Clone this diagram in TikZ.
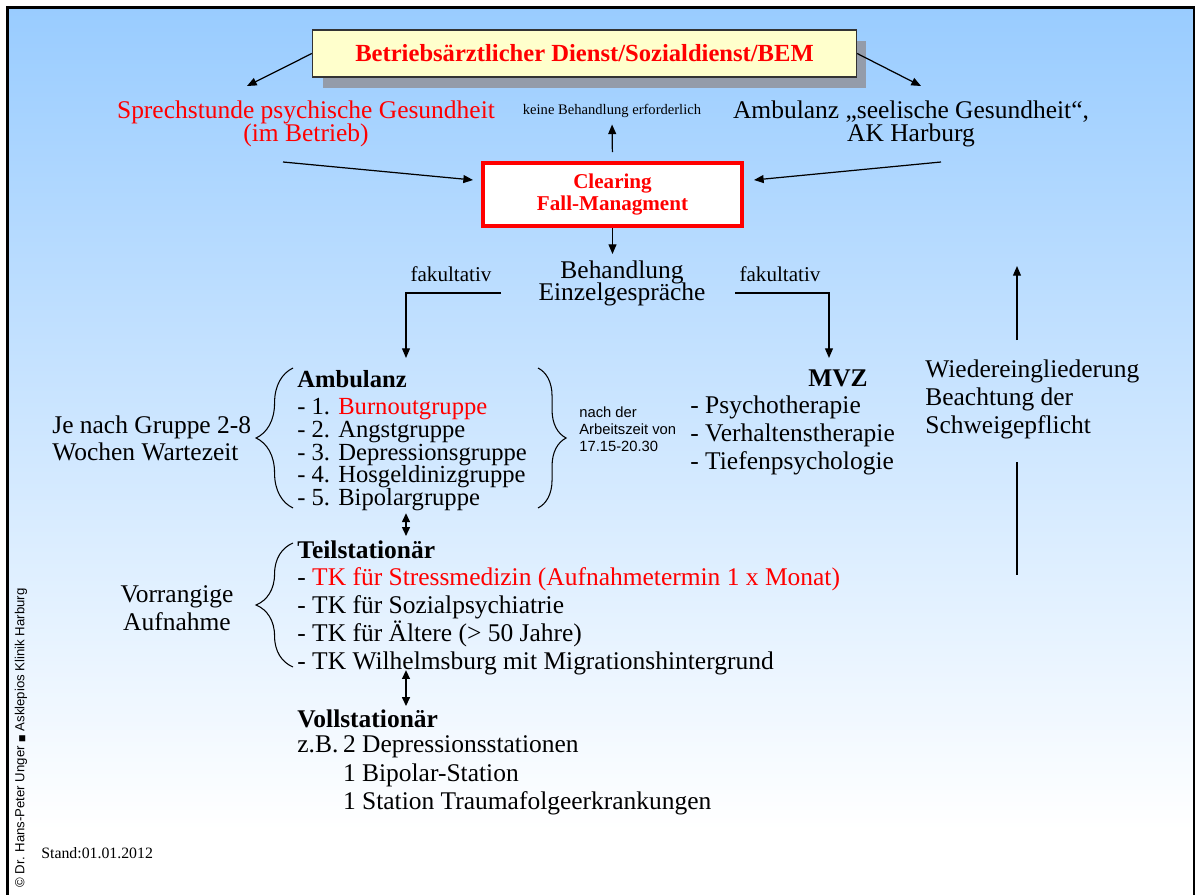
\documentclass[tikz,border=0pt]{standalone}
\usepackage{fontspec}
\setmainfont{Liberation Serif}
\setsansfont{Liberation Sans}
\newfontfamily\symbfont{DejaVu Sans}
\usetikzlibrary{arrows.meta,decorations.pathreplacing,shadows}

\definecolor{skyblue}{RGB}{153,204,255}
\definecolor{paleyellow}{RGB}{255,255,204}
\definecolor{shadowgrey}{RGB}{148,156,170}
\definecolor{signalred}{RGB}{255,0,0}

\newcommand\leadfont[2]{\fontsize{#1}{#2}\selectfont\lineskiplimit=-20pt\relax}

\tikzset{
  arr/.style={line width=0.7pt,-{Triangle[length=5.5pt,width=4.5pt]}},
  dblarr/.style={line width=0.7pt,{Triangle[length=5pt,width=4.5pt]}-{Triangle[length=5pt,width=4.5pt]}},
  txt/.style={inner sep=0pt,align=left,font=\leadfont{14.5}{#1}},
  txt/.default=15.8,
  grp/.style={inner sep=0pt,align=left,font=\leadfont{14}{13}},
  small/.style={inner sep=0pt,font=\fontsize{#1}{#1}\selectfont},
  curly/.style={decorate,decoration={brace,amplitude=#1},line width=0.6pt},
  bembox/.style={draw=black!80,line width=0.8pt,fill=paleyellow,minimum width=10.88cm,minimum height=0.94cm,
    text=signalred,font=\bfseries\fontsize{14}{16}\selectfont,
    general shadow={fill=shadowgrey,shadow xshift=0.2cm,shadow yshift=-0.22cm}},
  clearbox/.style={draw=signalred,line width=2.2pt,fill=white,minimum width=5.18cm,minimum height=1.26cm,
    align=center,text=signalred,font=\bfseries\fontsize{12}{13}\selectfont}
}

\begin{document}
\begin{tikzpicture}[x=0.02cm,y=-0.02cm]
		%%%%% START %%%%%
		\useasboundingbox (0,0) rectangle (1197,895);
		
		% background and frame
		\shade[top color=skyblue,bottom color=white] (7.5,7.5) rectangle (1194,830);
		\fill[white] (7.5,830) rectangle (1194,900);
		\draw[line width=1.6pt] (7.5,905) -- (7.5,7.5) -- (1194,7.5) -- (1194,905);
		
		% first row
		\node[bembox] (bem) at (584.5,53.5) {Betriebsärztlicher Dienst/Sozialdienst/BEM};
		\node[txt=13.2,align=center,anchor=north,text=signalred] (spr) at (306,100) {Sprechstunde psychische Gesundheit\\(im Betrieb)};
		\node[small=8.3,anchor=base] (keine) at (612,115) {keine Behandlung erforderlich};
		\node[txt=13.2,align=center,anchor=north] (akh) at (911,100) {Ambulanz „seelische Gesundheit“,\\AK Harburg};
		\node[clearbox] (clear) at (612.5,194.5) {Clearing\\Fall-Managment};
		
		\node[txt=13,align=center,anchor=north] (beh) at (622,260) {Behandlung\\Einzelgespräche};
		\node[small=12,anchor=base] (fakl) at (451,281) {fakultativ};
		\node[small=12,anchor=base] (fakr) at (780,281) {fakultativ};
		
		% ambulant
		\node[txt=15.3,anchor=north west] (wait) at (52,415.5) {Je nach Gruppe 2-8\\Wochen Wartezeit};
		\node[grp,anchor=north west] (amb) at (297,370) {\textbf{Ambulanz}\\[2.4pt]- 1. \textcolor{signalred}{Burnoutgruppe}\\- 2. Angstgruppe\\- 3. Depressionsgruppe\\- 4. Hosgeldinizgruppe\\- 5. Bipolargruppe};
		\node[inner sep=0pt,anchor=north west,align=left,font=\sffamily\fontsize{8.4}{9.9}\selectfont] (evening) at (579,406) {nach der\\Arbeitszeit von\\17.15-20.30};
		\node[inner sep=0pt,anchor=base,font=\bfseries\fontsize{14.5}{16}\selectfont] (mvz) at (838,386) {MVZ};
		\node[txt,anchor=north west] (mvzl) at (690,395.5) {- Psychotherapie\\- Verhaltenstherapie\\- Tiefenpsychologie};
		\node[txt,anchor=north west] (wied) at (925,359.5) {Wiedereingliederung\\Beachtung der\\Schweigepflicht};
		
		\draw[curly=21pt] (293,508) -- (293,368);
		\draw[curly=16pt] (538,368) -- (538,508);
		
		% stationary
		\node[txt,align=center,anchor=north] (vorr) at (177,585.5) {Vorrangige\\Aufnahme};
		\node[txt,anchor=north west] (teil) at (297,540) {\textbf{Teilstationär}\\- \textcolor{signalred}{TK für Stressmedizin (Aufnahmetermin 1 x Monat)}\\- TK für Sozialpsychiatrie\\- TK für Ältere (> 50 Jahre)\\- TK Wilhelmsburg mit Migrationshintergrund};
		\draw[curly=21pt] (293,667) -- (293,543);
		\node[txt=16.2,anchor=north west] (voll) at (297,709) {\textbf{Vollstationär}\\[-1.5pt]\makebox[26pt][l]{z.B.}2 Depressionsstationen\\\hspace*{26pt}1 Bipolar-Station\\\hspace*{26pt}1 Station Traumafolgeerkrankungen};
		
		\node[small=9,anchor=base west] (stand) at (41,858) {Stand:01.01.2012};
		\node[rotate=90,inner sep=0pt,font=\sffamily\fontsize{7.5}{9}\selectfont] (copyr) at (21,738) {© Dr. Hans-Peter Unger {\symbfont\fontsize{4.5}{5}\selectfont ■} Asklepios Klinik Harburg};
		
		% connectors
		\coordinate (sprTip) at (247,86);
		\coordinate (akhTip) at (921,86);
		\coordinate (sprOut) at (283,162);
		\coordinate (clearInL) at (473,180);
		\coordinate (akhOut) at (941,162);
		\coordinate (clearInR) at (754,180);
		\coordinate (behL) at (501,293);
		\coordinate (ambIn) at (406,358);
		\coordinate (behR) at (735,293);
		\coordinate (mvzIn) at (829,358);
		\coordinate (reFrom) at (1017,340);
		\coordinate (reTo) at (1017,266);
		\coordinate (reMid) at (1017,462);
		\coordinate (reBot) at (1017,575);
		
		\draw[arr] (bem.west) -- (sprTip);
		\draw[arr] (bem.east) -- (akhTip);
		\draw[arr] (sprOut) -- (clearInL);
		\draw[arr] (akhOut) -- (clearInR);
		\draw[arr,shorten <=5.1pt,shorten >=3.4pt] (clear.north) -- (keine.south);
		\draw[arr,shorten >=3.4pt] (clear.south) -- (clear.south |- beh.north);
		\draw[arr] (behL) -| (ambIn);
		\draw[arr] (behR) -| (mvzIn);
		\draw[dblarr,shorten <=1pt,shorten >=2.3pt] (amb.south -| ambIn) -- (teil.north -| ambIn);
		\draw[dblarr,shorten <=-2.7pt,shorten >=1.7pt] (teil.south -| ambIn) -- (voll.north -| ambIn);
		\draw[arr] (reFrom) -- (reTo);
		\draw[line width=0.7pt] (reMid) -- (reBot);
		
		%%%%% END %%%%%
\end{tikzpicture}
\end{document}
